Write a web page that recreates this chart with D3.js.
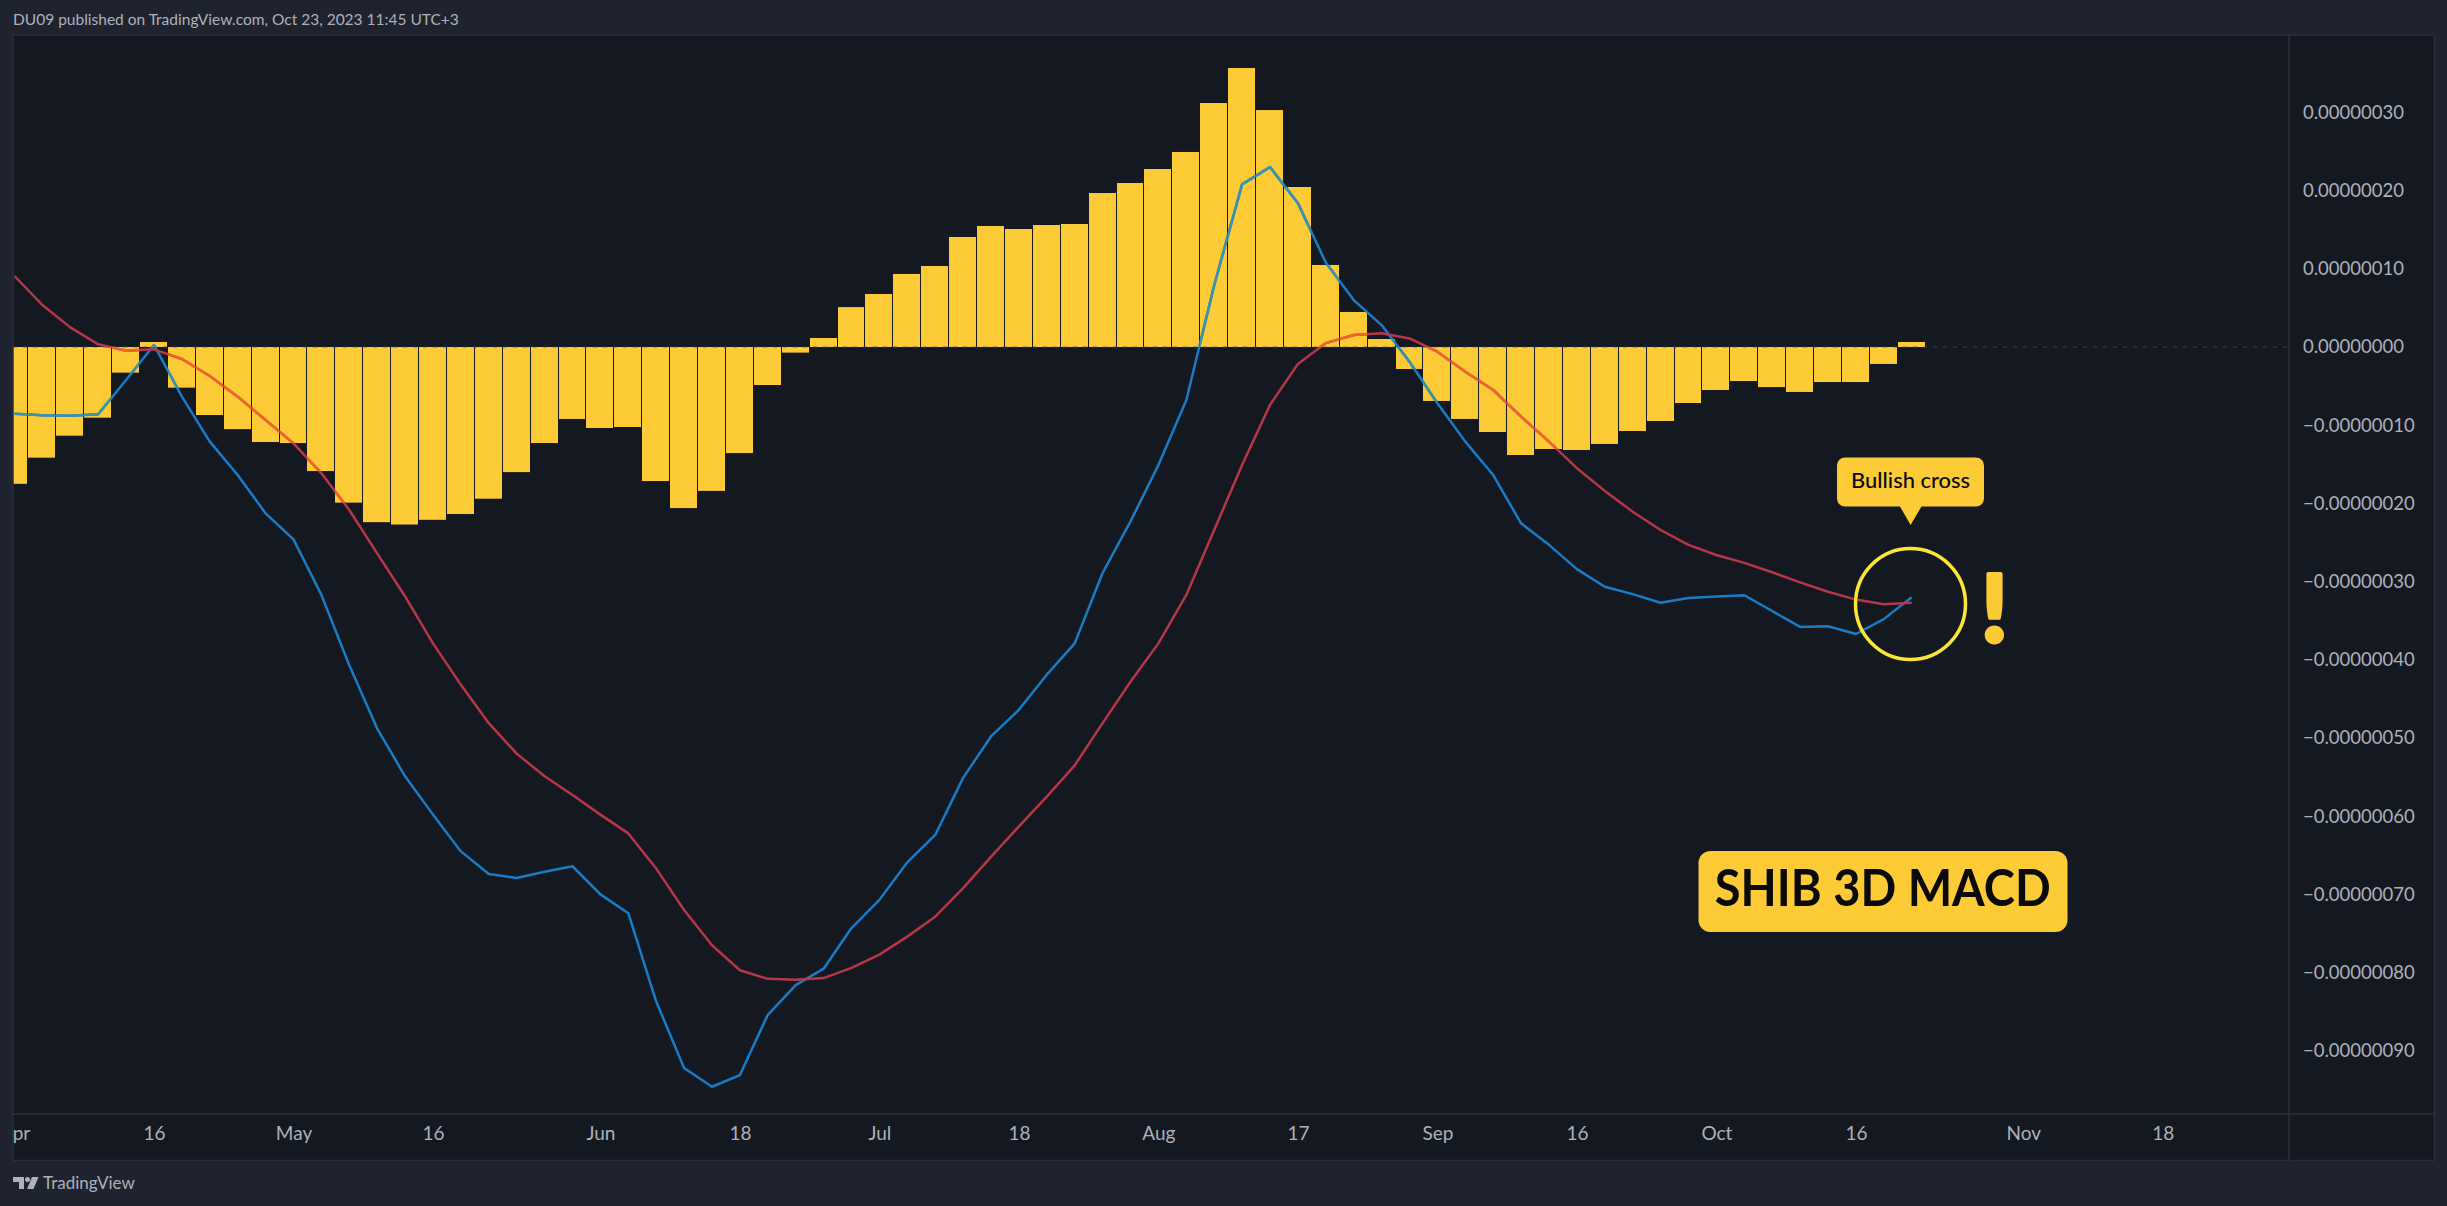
<!DOCTYPE html>
<html>
<head>
<meta charset="utf-8">
<script src="https://cdn.jsdelivr.net/npm/d3@7/dist/d3.min.js"></script>
<style>
html,body{margin:0;padding:0;background:#1f232f;overflow:hidden}
svg{display:block}
text{font-family:Lato,"Open Sans",sans-serif}
</style>
</head>
<body>
<svg id="c" width="2447" height="1206"></svg>
<script>
// All values in units of 1e-7
const histogram = [-1.75,-1.415,-1.134,-0.904,-0.328,0.064,-0.52,-0.87,-1.05,-1.215,-1.228,-1.586,-1.99,-2.24,-2.27,-2.21,-2.136,-1.94,-1.6,-1.228,-0.92,-1.036,-1.023,-1.714,-2.06,-1.84,-1.356,-0.486,-0.072,0.115,0.51,0.678,0.934,1.036,1.407,1.547,1.509,1.56,1.573,1.969,2.097,2.276,2.494,3.12,3.568,3.03,2.046,1.049,0.448,0.102,-0.281,-0.69,-0.92,-1.087,-1.381,-1.304,-1.317,-1.24,-1.074,-0.946,-0.716,-0.55,-0.435,-0.512,-0.575,-0.448,-0.448,-0.217,0.064];
const macdLine = [-0.853,-0.874,-0.878,-0.861,-0.422,0.026,-0.635,-1.21,-1.637,-2.127,-2.46,-3.17,-4.07,-4.88,-5.49,-5.98,-6.45,-6.74,-6.79,-6.71,-6.64,-7.0,-7.24,-8.37,-9.22,-9.46,-9.31,-8.54,-8.16,-7.95,-7.43,-7.07,-6.59,-6.24,-5.51,-4.98,-4.64,-4.19,-3.79,-2.89,-2.23,-1.51,-0.68,0.79,2.08,2.30,1.84,1.08,0.60,0.28,-0.188,-0.72,-1.21,-1.637,-2.255,-2.53,-2.84,-3.065,-3.16,-3.27,-3.21,-3.19,-3.175,-3.376,-3.58,-3.57,-3.67,-3.48,-3.2];
const signalLine = [0.908,0.537,0.251,0.034,-0.047,-0.03,-0.153,-0.371,-0.635,-0.934,-1.232,-1.615,-2.084,-2.64,-3.19,-3.79,-4.32,-4.81,-5.2,-5.49,-5.73,-5.98,-6.22,-6.67,-7.2,-7.65,-7.97,-8.08,-8.09,-8.07,-7.94,-7.77,-7.54,-7.285,-6.92,-6.52,-6.13,-5.75,-5.35,-4.81,-4.28,-3.79,-3.17,-2.34,-1.51,-0.74,-0.217,0.05,0.153,0.175,0.11,-0.06,-0.316,-0.55,-0.89,-1.21,-1.55,-1.84,-2.106,-2.34,-2.53,-2.66,-2.76,-2.88,-3.01,-3.13,-3.23,-3.29,-3.27];
const yTickValues = [3,2,1,0,-1,-2,-3,-4,-5,-6,-7,-8,-9];
const yTickLabels = ["0.00000030","0.00000020","0.00000010","0.00000000","−0.00000010","−0.00000020","−0.00000030","−0.00000040","−0.00000050","−0.00000060","−0.00000070","−0.00000080","−0.00000090"];
const xTickIndex = [0,5,10,15,21,26,31,36,41,46,51,56,61,66,72,77];
const xTickLabels = ["Apr","16","May","16","Jun","18","Jul","18","Aug","17","Sep","16","Oct","16","Nov","18"];

const C = {outer:"#1f232f",plot:"#141821",border:"#2a2e39",bar:"#fccb36",blue:"#1a7cc6",red:"#b7374a",
           blueOn:"#3a93ae",redOn:"#f0652f",axis:"#aeb1ba",ring:"#fbe636"};
const L = {l:13,r:2289,t:35,b:1114,ab:1160.5,re:2434.5};

const svg = d3.select("#c");
const x = d3.scaleLinear().domain([0,68]).range([14.5,1911.7]);
const y = d3.scaleLinear().domain([0,-9]).range([347,1050.8]);

svg.append("rect").attr("width",2447).attr("height",1206).attr("fill",C.outer);
svg.append("rect").attr("x",L.l).attr("y",L.t).attr("width",L.re-L.l).attr("height",L.ab-L.t).attr("fill",C.plot);

const defs = svg.append("defs");
defs.append("clipPath").attr("id","plotClip").append("rect")
  .attr("x",L.l).attr("y",L.t).attr("width",L.r-L.l).attr("height",L.b-L.t);
defs.append("clipPath").attr("id","xClip").append("rect")
  .attr("x",L.l).attr("y",L.b).attr("width",L.r-L.l).attr("height",L.ab-L.b);

const plot = svg.append("g").attr("clip-path","url(#plotClip)");

const barLeft = i => Math.round(x(i)-13.95);
const barAttrs = sel => sel
  .attr("x",(d,i)=>barLeft(i))
  .attr("width",(d,i)=>barLeft(i+1)-barLeft(i)-1)
  .attr("y",d=>Math.min(y(d),y(0)))
  .attr("height",d=>Math.abs(y(d)-y(0)));

plot.append("g").selectAll("rect").data(histogram).join("rect").call(barAttrs).attr("fill",C.bar);
defs.append("clipPath").attr("id","barClip").selectAll("rect").data(histogram).join("rect").call(barAttrs);

// zero line
plot.append("line").attr("x1",L.l).attr("x2",L.r).attr("y1",y(0)).attr("y2",y(0))
  .attr("stroke","#4a4a48").attr("stroke-opacity",.75).attr("stroke-width",1).attr("stroke-dasharray","4 6");

const line = d3.line().x((d,i)=>x(i)).y(d=>y(d));
const draw = (data,colour,parent)=>parent.append("path").attr("d",line(data)).attr("fill","none")
  .attr("stroke",colour).attr("stroke-width",2.5).attr("stroke-linejoin","round");
draw(macdLine,C.blue,plot);
draw(signalLine,C.red,plot);
const over = plot.append("g").attr("clip-path","url(#barClip)");
draw(macdLine,C.blueOn,over);
draw(signalLine,C.redOn,over);

// frame
const rule=(x1,y1,x2,y2)=>svg.append("line").attr("x1",x1).attr("y1",y1).attr("x2",x2).attr("y2",y2).attr("stroke",C.border).attr("stroke-width",1.5);
rule(L.l,L.t,L.re,L.t); rule(L.l,L.b,L.re,L.b); rule(L.l,L.ab,L.re,L.ab);
rule(L.r,L.t,L.r,L.ab); rule(L.re,L.t,L.re,L.ab); rule(L.l,L.t,L.l,L.ab);

// axes
const yAxis = svg.append("g").attr("transform",`translate(${L.r},0)`)
  .call(d3.axisRight(y).tickValues(yTickValues).tickSize(0).tickPadding(14)
    .tickFormat(v=>yTickLabels[yTickValues.indexOf(v)]));
yAxis.select(".domain").remove();
yAxis.selectAll("text").attr("fill",C.axis).attr("font-size",18.5).style("font-family","Lato");

const xAxis = svg.append("g").attr("clip-path","url(#xClip)").append("g").attr("transform",`translate(0,${L.b})`)
  .call(d3.axisBottom(x).tickValues(xTickIndex).tickSize(0).tickPadding(13)
    .tickFormat(v=>xTickLabels[xTickIndex.indexOf(v)]));
xAxis.select(".domain").remove();
xAxis.selectAll("text").attr("fill",C.axis).attr("font-size",19).style("font-family","Lato");

// header & footer
svg.append("text").attr("x",13).attr("y",25).attr("fill",C.axis).attr("font-size",15.5)
  .text("DU09 published on TradingView.com, Oct 23, 2023 11:45 UTC+3");
svg.append("text").attr("x",43).attr("y",1189).attr("fill",C.axis).attr("font-size",17).text("TradingView");
const logo = svg.append("g").attr("fill",C.axis);
logo.append("path").attr("d","M13 1177h11v12h-5v-7h-6z");
logo.append("circle").attr("cx",27.5).attr("cy",1179.5).attr("r",2.5);
logo.append("path").attr("d","M32 1177h6.5l-5 12h-6.5z");

// annotations
const ann = svg.append("g");
ann.append("path").attr("fill",C.bar)
  .attr("d","M1845 457.5H1976a8 8 0 0 1 8 8V498.5a8 8 0 0 1 -8 8H1921.5L1910.6 525L1900 506.5H1845a8 8 0 0 1 -8 -8V465.5a8 8 0 0 1 8 -8z");
ann.append("text").attr("x",1910.6).attr("y",488).attr("text-anchor","middle").attr("fill","#0a0a0a")
  .attr("font-size",21).attr("font-weight",500).attr("textLength",119).attr("lengthAdjust","spacingAndGlyphs").text("Bullish cross");
ann.append("ellipse").attr("cx",1910.5).attr("cy",604).attr("rx",55).attr("ry",55.5)
  .attr("fill","none").attr("stroke",C.ring).attr("stroke-width",3.5);
ann.append("text").attr("x",1994.5).attr("y",642).attr("text-anchor","middle").attr("fill",C.bar)
  .attr("stroke",C.bar).attr("stroke-width",4).attr("stroke-linejoin","round")
  .attr("font-size",94).attr("font-weight",900).text("!");
ann.append("rect").attr("x",1698.5).attr("y",851).attr("width",369).attr("height",81).attr("rx",12).attr("fill",C.bar);
ann.append("text").attr("x",1882.7).attr("y",906).attr("text-anchor","middle").attr("fill","#0a0a0a")
  .attr("font-size",51).attr("font-weight",700).attr("textLength",336).attr("lengthAdjust","spacingAndGlyphs").text("SHIB 3D MACD");
</script>
</body>
</html>
